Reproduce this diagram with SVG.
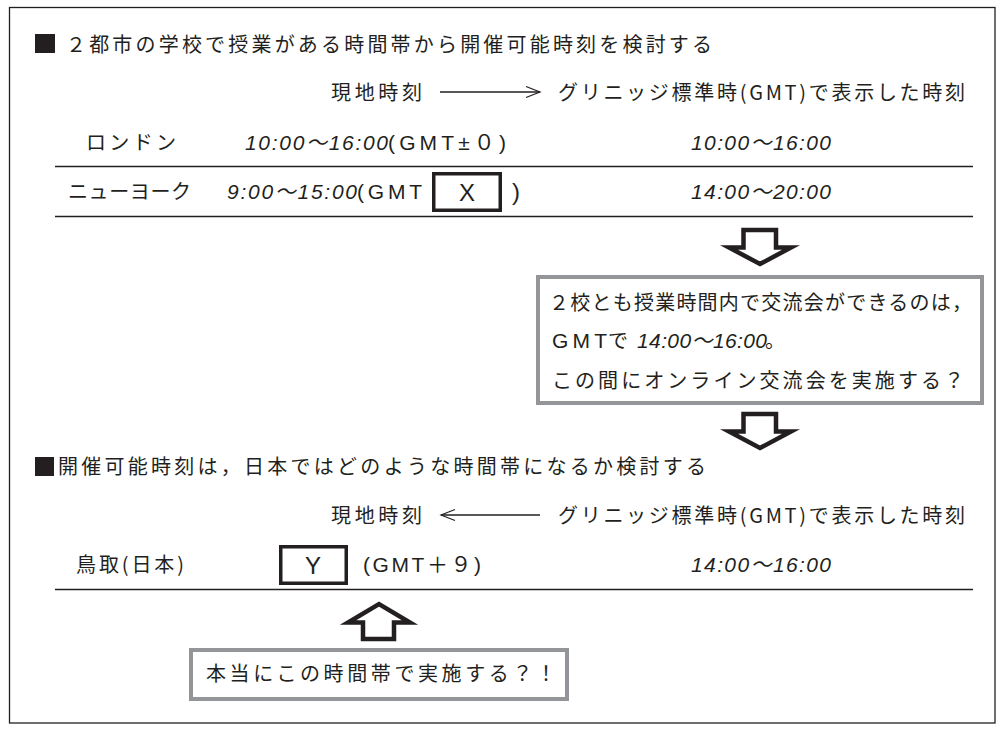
<svg xmlns="http://www.w3.org/2000/svg" width="1005" height="733" viewBox="0 0 1005 733">
<style>
text{font-family:"Noto Sans CJK JP","Noto Sans",sans-serif;font-size:20px;fill:#231f20}
.n{font-family:"Liberation Sans","Noto Sans CJK JP",sans-serif;font-style:italic;font-size:21px}
.u{font-family:"Liberation Sans","Noto Sans CJK JP",sans-serif;font-size:21px}
.l{font-size:24px}
.rule{stroke:#231f20;stroke-width:1.3;fill:none}
.thin{stroke:#231f20;stroke-width:1.3;fill:none;marker-end:url(#open)}
.big{fill:#fff;stroke:#231f20;stroke-width:4.500;stroke-linejoin:miter;stroke-miterlimit:12}
.blank{fill:#fff;stroke:#231f20;stroke-width:3.500}
.note{fill:#fff;stroke:#939598;stroke-width:4}
</style>
<defs>
<marker id="open" markerUnits="userSpaceOnUse" markerWidth="18" markerHeight="14" refX="16" refY="7" orient="auto">
<path d="M2 1.500 16 7 2 12.500" fill="none" stroke="#231f20" stroke-width="1.200"/>
</marker>
</defs>
<rect id="frame" x="9.500" y="7.500" width="985.500" height="715.500" fill="#fff" stroke="#231f20" stroke-width="1.300"/>
<g id="connectors">
<path class="thin" d="M440 92H540"/>
<path class="thin" d="M540 515H441"/>
<path class="big" d="M743.500 230H776V247.500H791L760 264 729 247.500H743.500Z"/>
<path class="big" d="M743.500 414H776V431.500H791L760 448 729 431.500H743.500Z"/>
<path class="big" d="M363 639H394V622.500H410L379 604 348 622.500H363Z"/>
</g>
<g id="rules">
<path class="rule" d="M55 166.500H973M55 216.500H973M55 589.500H973"/>
</g>
<g id="heading-1">
<rect x="35" y="34" width="20" height="19" fill="#231f20"/>
<text x="66" y="52" textLength="646">２都市の学校で授業がある時間帯から開催可能時刻を検討する</text>
</g>
<g id="header-1">
<text x="331" y="100" textLength="91">現地時刻</text>
<text x="558" y="100" textLength="407">グリニッジ標準時(GMT)で表示した時刻</text>
</g>
<g id="row-london">
<text x="86" y="150" textLength="90">ロンドン</text>
<text class="n" x="245" y="150" textLength="143">10:00〜16:00</text>
<text class="u" x="388" y="150" textLength="118">(GMT±０)</text>
<text class="n" x="691" y="150" textLength="140">10:00〜16:00</text>
</g>
<g id="row-newyork">
<text x="68" y="199" textLength="123">ニューヨーク</text>
<text class="n" x="227" y="199" textLength="130">9:00〜15:00</text>
<text class="u" x="357" y="199" textLength="65">(GMT</text>
<rect class="blank" x="433.750" y="173.750" width="66.500" height="36.500"/>
<text class="u l" x="467" y="201" text-anchor="middle">X</text>
<text class="u l" x="512" y="200">)</text>
<text class="n" x="691" y="199" textLength="140">14:00〜20:00</text>
</g>
<g id="note-1">
<rect class="note" x="538" y="277" width="444" height="126"/>
<text x="549" y="310" textLength="423">２校とも授業時間内で交流会ができるのは，</text>
<text class="u" x="552" y="348" textLength="55">GMT</text>
<text x="608" y="348" textLength="20">で</text>
<text class="n" x="637" y="348" textLength="130">14:00〜16:00</text>
<text x="765" y="348">。</text>
<text x="552" y="388" textLength="412">この間にオンライン交流会を実施する？</text>
</g>
<g id="heading-2">
<rect x="35" y="457" width="19" height="19" fill="#231f20"/>
<text x="58" y="474" textLength="648">開催可能時刻は，日本ではどのような時間帯になるか検討する</text>
</g>
<g id="header-2">
<text x="331" y="523" textLength="91">現地時刻</text>
<text x="558" y="523" textLength="407">グリニッジ標準時(GMT)で表示した時刻</text>
</g>
<g id="row-tottori">
<text x="76" y="572" textLength="108">鳥取(日本)</text>
<rect class="blank" x="280.750" y="546.750" width="65.500" height="36.500"/>
<text class="u l" x="313" y="574" text-anchor="middle">Y</text>
<text class="u" x="363" y="572" textLength="118">(GMT＋９)</text>
<text class="n" x="691" y="572" textLength="140">14:00〜16:00</text>
</g>
<g id="note-2">
<rect class="note" x="191" y="650" width="376" height="49"/>
<text x="206" y="681" textLength="350">本当にこの時間帯で実施する？！</text>
</g>
</svg>
